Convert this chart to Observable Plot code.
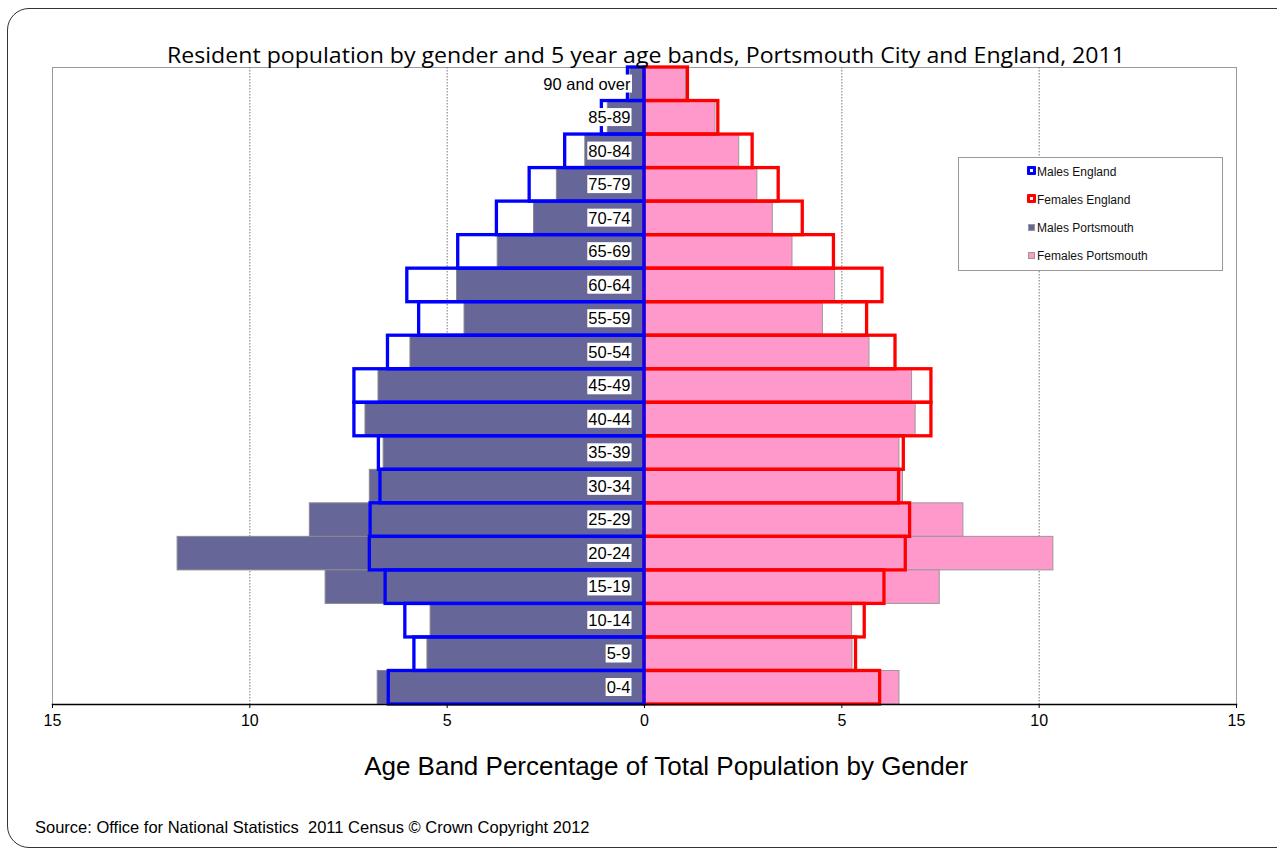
<!DOCTYPE html>
<html><head><meta charset="utf-8">
<script src="https://cdn.jsdelivr.net/npm/d3@7"></script>
<script src="https://cdn.jsdelivr.net/npm/@observablehq/plot@0.6"></script>
<style>
body{margin:0;background:#fff;overflow:hidden;font-family:"Liberation Sans",Arial,sans-serif}
#wrap{position:relative;width:1277px;height:852px;overflow:hidden;background:#fff}
#border{position:absolute;left:7px;top:8px;width:1320px;height:838px;border:1px solid #333;border-radius:22px}
#chart{position:absolute;left:0;top:0}
#overlay{position:absolute;left:0;top:0;pointer-events:none}
#legend{position:absolute;left:958px;top:157px;width:263px;height:112px;border:1px solid #9a9a9a;background:#fff;font-size:12px;color:#111}
.item{position:absolute;left:69px;height:14px;line-height:14px;white-space:nowrap}
.sw{position:absolute;left:0;top:2px;box-sizing:border-box}
.item span{position:absolute;left:9px;top:0}
#chart g[aria-label="x-axis tick label"]{font-size:16px !important}
#chart g[aria-label="x-axis tick label"] text{font-size:16px !important}
</style></head>
<body>
<div id="wrap">
  <div id="border"></div>
  <div id="chart"></div>
  <svg id="overlay" width="1277" height="852">
    <text id="title" x="646" y="63" text-anchor="middle" font-family="'Open Sans', sans-serif" font-size="22" fill="#000" textLength="958" lengthAdjust="spacingAndGlyphs"></text>
    <text id="xlabel" x="666" y="775" text-anchor="middle" font-family="'Liberation Sans', Arial, sans-serif" font-size="26" fill="#000"></text>
    <text id="source" x="35" y="833" font-family="'Liberation Sans', Arial, sans-serif" font-size="16.5" fill="#000" xml:space="preserve"></text>
  </svg>
  <div id="legend"></div>
</div>
<script>
const ages = ["90 and over","85-89","80-84","75-79","70-74","65-69","60-64","55-59","50-54","45-49","40-44","35-39","30-34","25-29","20-24","15-19","10-14","5-9","0-4"];
const malesPortsmouth   = [0.36,0.93,1.50,2.22,2.80,3.72,4.75,4.56,5.93,6.74,7.07,6.61,6.96,8.48,11.83,8.08,5.42,5.50,6.76];
const malesEngland      = [0.42,1.08,2.01,2.91,3.74,4.72,6.01,5.71,6.50,7.35,7.35,6.73,6.69,6.94,6.96,6.56,6.06,5.83,6.48];
const femalesPortsmouth = [1.05,1.80,2.40,2.86,3.25,3.75,4.83,4.52,5.70,6.78,6.87,6.46,6.55,8.08,10.36,7.48,5.26,5.27,6.46];
const femalesEngland    = [1.10,1.87,2.74,3.40,4.01,4.80,6.03,5.64,6.36,7.27,7.27,6.57,6.45,6.73,6.62,6.08,5.58,5.36,5.97];
const xTicks = [-15,-10,-5,0,5,10,15];
const gridTicks = [-10,-5,5,10];
const titleText = "Resident population by gender and 5 year age bands, Portsmouth City and England, 2011";
const xLabelText = "Age Band Percentage of Total Population by Gender";
const sourceText = "Source: Office for National Statistics  2011 Census \u00A9 Crown Copyright 2012";
const legendItems = [
  {label:"Males England", kind:"outline", color:"#0000ff"},
  {label:"Females England", kind:"outline", color:"#ff0000"},
  {label:"Males Portsmouth", kind:"fill", color:"#666699"},
  {label:"Females Portsmouth", kind:"fill", color:"#ff99cc"}
];

const data = ages.map((age,i)=>({age, mp:malesPortsmouth[i], me:malesEngland[i], fp:femalesPortsmouth[i], fe:femalesEngland[i]}));

const chart = Plot.plot({
  width:1277, height:852,
  marginLeft:52, marginRight:41, marginTop:67, marginBottom:148,
  style:{background:"transparent", fontFamily:"'Liberation Sans', Arial, sans-serif", fontSize:"15px", color:"#000"},
  x:{domain:[-15,15]},
  y:{domain:ages, padding:0, round:false, axis:null},
  marks:[
    Plot.frame({stroke:"#9a9a9a", strokeWidth:1}),
    Plot.gridX({ticks:gridTicks, stroke:"#777", strokeOpacity:1, strokeDasharray:"1.5,1.5"}),
    Plot.barX(data, {y:"age", x1:0, x2:d=>-d.mp, fill:"#666699", stroke:"#8a8a8a", strokeWidth:1}),
    Plot.barX(data, {y:"age", x1:0, x2:"fp", fill:"#ff99cc", stroke:"#999", strokeWidth:1}),
    Plot.barX(data, {y:"age", x1:0, x2:"fe", fill:"none", stroke:"#ff0000", strokeWidth:3.3}),
    Plot.barX(data, {y:"age", x1:0, x2:d=>-d.me, fill:"none", stroke:"#0000ff", strokeWidth:3.3}),
    Plot.text(data, {y:"age", x:0, dx:-14, text:"age", textAnchor:"end", fill:"#000", fontSize:16.5}),
    Plot.axisX({ticks:xTicks, tickFormat:d=>Math.abs(d), tickSize:4, tickPadding:6, fontSize:16, anchor:"bottom"}),
    Plot.frame({anchor:"bottom", stroke:"#000", strokeWidth:1.5})
  ]
});
document.getElementById("chart").appendChild(chart);

// white boxes behind age labels
chart.querySelectorAll('g[aria-label="text"] text').forEach(t=>{
  const b = t.getBBox();
  const r = document.createElementNS("http://www.w3.org/2000/svg","rect");
  r.setAttribute("x", b.x-1); r.setAttribute("y", b.y);
  r.setAttribute("width", b.width+2); r.setAttribute("height", b.height);
  r.setAttribute("fill","#fff");
  const tr = t.getAttribute("transform"); if (tr) r.setAttribute("transform", tr);
  t.parentNode.insertBefore(r, t);
});

document.getElementById("title").textContent = titleText;
document.getElementById("xlabel").textContent = xLabelText;
document.getElementById("source").textContent = sourceText;

const lg = document.getElementById("legend");
legendItems.forEach((it,i)=>{
  const d = document.createElement("div");
  d.className = "item";
  d.style.top = (7 + i*28) + "px";
  const sw = document.createElement("div");
  sw.className = "sw";
  if (it.kind === "outline") {
    sw.style.width = "9px"; sw.style.height = "9px"; sw.style.left = "-1px"; sw.style.top = "1px";
    sw.style.border = "3px solid " + it.color; sw.style.background = "#fff"; sw.style.borderRadius = "1px";
  } else {
    sw.style.width = "7px"; sw.style.height = "7px";
    sw.style.background = it.color; sw.style.border = "1px solid #999";
    sw.style.top = "3px";
  }
  const s = document.createElement("span");
  s.textContent = it.label;
  d.appendChild(sw); d.appendChild(s);
  lg.appendChild(d);
});
</script>
</body></html>
